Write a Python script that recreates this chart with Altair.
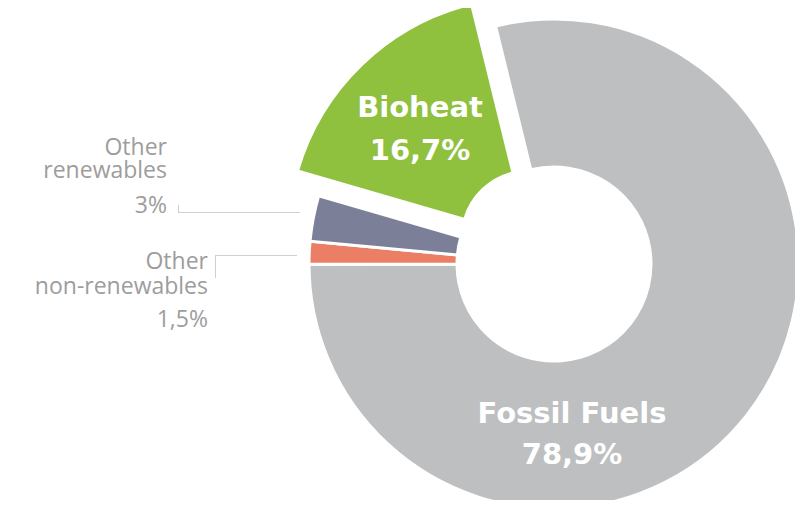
import math
import altair as alt
import pandas as pd

# ---- data ----
categories = ["Fossil Fuels", "Other non-renewables", "Other renewables", "Bioheat"]
shares = [78.9, 1.5, 3.0, 16.7]
share_labels = ["78,9%", "1,5%", "3%", "16,7%"]
names = ["Fossil Fuels", "Other\nnon-renewables", "Other\nrenewables", "Bioheat"]
colors = ["#bdbfc1", "#ea7f66", "#7b7f98", "#8fc13e"]

df = pd.DataFrame({
    "category": categories,
    "share": shares,
    "pct": share_labels,
    "name": names,
    "order": list(range(len(categories))),
})

# ---- layout / style ----
W, H = 787, 492
CX, CY = 546, 256          # donut centre inside the plot area
R_OUT, R_IN = 245, 97
EXPLODE = (-25, -26)       # Bioheat slice pulled out
BIO_OUT, BIO_IN = 241, 67
ROT = math.radians(-13.8)  # start angle of the first slice
TOTAL = sum(shares)

base = (
    alt.Chart(df)
    .transform_window(cum="sum(share)", sort=[alt.SortField("order")], frame=[None, 0])
    .transform_calculate(start="datum.cum - datum.share")
)

theta_scale = alt.Scale(domain=[0, TOTAL], range=[ROT, ROT + 2 * math.pi])
color = alt.Color("category:N", scale=alt.Scale(domain=categories, range=colors), legend=None)


def arcs(expr, **mk):
    return base.transform_filter(expr).mark_arc(stroke="white", strokeWidth=3, **mk).encode(
        theta=alt.Theta("start:Q", scale=theta_scale, stack=None),
        theta2="cum:Q",
        color=color,
    )


ring = arcs(alt.datum.category != "Bioheat", x=CX, y=CY, outerRadius=R_OUT, innerRadius=R_IN)
bio = arcs(alt.datum.category == "Bioheat", x=CX + EXPLODE[0], y=CY + EXPLODE[1],
           outerRadius=BIO_OUT, innerRadius=BIO_IN)


def label(cat, field, **mk):
    return (
        alt.Chart(df)
        .transform_filter(alt.datum.category == cat)
        .mark_text(lineBreak="\n", baseline="alphabetic", **mk)
        .encode(text=f"{field}:N")
    )


inside = dict(font="DejaVu Sans", fontWeight="bold", fontSize=29, color="white", align="center")
outside = dict(font="Open Sans", fontSize=23, color="#9d9d9d", align="right")

labels = [
    label("Bioheat", "name", x=412, y=109, **inside),
    label("Bioheat", "pct", x=412, y=152, **inside),
    label("Fossil Fuels", "name", x=564, y=415, **inside),
    label("Fossil Fuels", "pct", x=564, y=456, **inside),
    label("Other renewables", "name", x=159, y=147, lineHeight=23, **outside),
    label("Other renewables", "pct", x=159, y=205, **outside),
    label("Other non-renewables", "name", x=200, y=261, lineHeight=25, **outside),
    label("Other non-renewables", "pct", x=200, y=319, **outside),
]

line_color = "#cfcfcf"
leaders = [
    # Other renewables
    alt.Chart(df).mark_rule(color=line_color, strokeWidth=1).encode(
        x=alt.value(170), x2=alt.value(292), y=alt.value(204.5)),
    alt.Chart(df).mark_rule(color=line_color, strokeWidth=1).encode(
        x=alt.value(170.5), y=alt.value(197), y2=alt.value(204.5)),
    # Other non-renewables
    alt.Chart(df).mark_rule(color=line_color, strokeWidth=1).encode(
        x=alt.value(207), x2=alt.value(289), y=alt.value(247.5)),
    alt.Chart(df).mark_rule(color=line_color, strokeWidth=1).encode(
        x=alt.value(207.5), y=alt.value(247.5), y2=alt.value(270)),
]

chart = (
    alt.layer(ring, bio, *leaders, *labels)
    .properties(width=W, height=H, padding=0, autosize="none", background="white")
    .configure_view(stroke=None)
)

chart.save("out.html", embed_options={"renderer": "svg", "actions": False})
